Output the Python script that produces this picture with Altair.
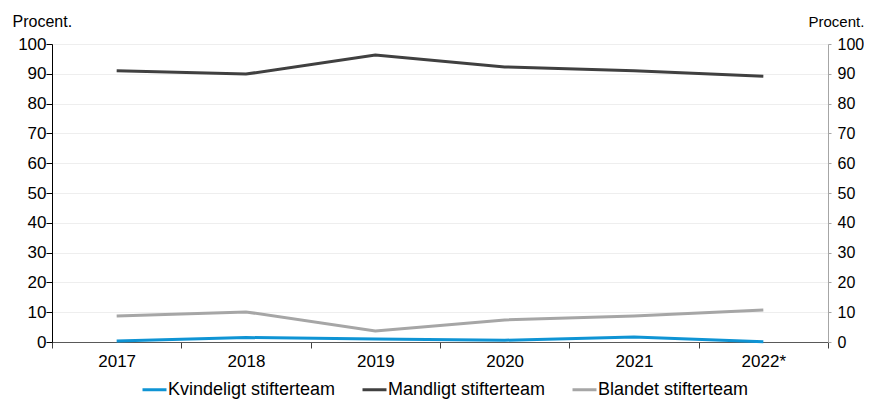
import altair as alt
import pandas as pd

years = ["2017", "2018", "2019", "2020", "2021", "2022*"]
kvinde = [0.3, 1.5, 1.0, 0.6, 1.7, 0.1]
mand = [91.0, 89.9, 96.3, 92.3, 91.0, 89.2]
blandet = [8.7, 10.1, 3.7, 7.4, 8.7, 10.7]
series_names = ["Kvindeligt stifterteam", "Mandligt stifterteam", "Blandet stifterteam"]
colors = ["#0f94d4", "#404040", "#a6a6a6"]

rows = []
for name, vals in zip(series_names, [kvinde, mand, blandet]):
    for y, v in zip(years, vals):
        rows.append({"year": y, "value": v, "series": name})
df = pd.DataFrame(rows)

FONT = "Liberation Sans"

x = alt.X(
    "year:N", sort=years, bandPosition=0.5,
    scale=alt.Scale(type="band", paddingInner=0, paddingOuter=0),
    axis=alt.Axis(title=None, labelAngle=0, grid=False, tickBand="extent",
                  domainColor="#595959", tickColor="#404040", tickSize=6,
                  labelFontSize=17, labelColor="#000000", labelPadding=5, labelFont=FONT),
)

yvals = list(range(0, 101, 10))

left = alt.Chart(df).mark_line(strokeWidth=3).encode(
    x=x,
    y=alt.Y("value:Q", scale=alt.Scale(domain=[0, 100]),
            axis=alt.Axis(orient="left", values=yvals, title="Procent.", titleAngle=0,
                          titleAlign="left", titleBaseline="alphabetic", titleX=-40, titleY=-18,
                          titleFontSize=16, titleFontWeight="normal", titleFont=FONT,
                          titleColor="#000000",
                          grid=True, gridColor="#eeeeee", domainColor="#000000",
                          tickColor="#000000", tickSize=6, labelFontSize=17,
                          labelColor="#000000", labelFont=FONT, labelPadding=0)),
    color=alt.Color("series:N", sort=series_names,
                    scale=alt.Scale(domain=series_names, range=colors),
                    legend=alt.Legend(orient="none", direction="horizontal", title=None,
                                      legendX=89, legendY=332, labelLimit=400,
                                      symbolType="stroke", symbolStrokeWidth=3, symbolSize=576,
                                      labelFontSize=18, labelFont=FONT, labelColor="#000000",
                                      labelOffset=0, columnPadding=20)),
    order=alt.Order("series:N"),
)

right = alt.Chart(df).mark_line(opacity=0).encode(
    x=x,
    y=alt.Y("value:Q", scale=alt.Scale(domain=[0, 100]),
            axis=alt.Axis(orient="right", values=yvals, title="Procent.", titleAngle=0,
                          titleAlign="left", titleBaseline="alphabetic", titleX=-20, titleY=-18,
                          titleFontSize=15, titleFontWeight="normal", titleFont=FONT,
                          titleColor="#000000",
                          grid=False, domainColor="#a6a6a6", tickColor="#a6a6a6", tickSize=3,
                          labelFontSize=16, labelColor="#000000", labelFont=FONT,
                          labelPadding=6)),
    detail="series:N",
)

chart = alt.layer(left, right).resolve_scale(y="shared").resolve_axis(y="independent").properties(
    width=776, height=298, padding={"left": 4, "top": 5, "right": 0, "bottom": 0}
).configure_view(stroke=None).configure(font=FONT)

chart.save("out.html", embed_options={"renderer": "svg", "actions": False})
